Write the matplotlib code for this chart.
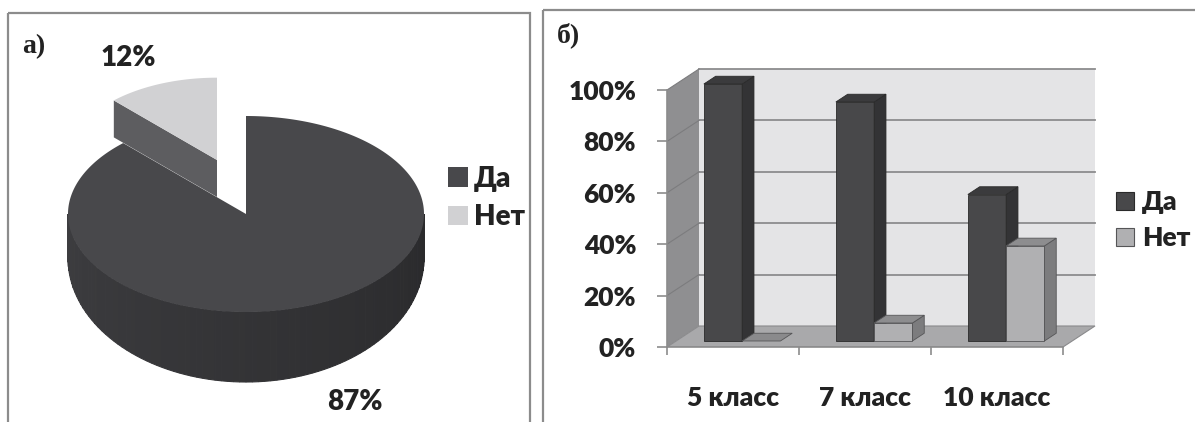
import numpy as np
import matplotlib
matplotlib.use("Agg")
import matplotlib.pyplot as plt
from matplotlib.patches import Polygon, Rectangle, Patch

# ---- data -------------------------------------------------------------
pie_labels = ["Да", "Нет"]
pie_values = [87, 12]

classes = ["5 класс", "7 класс", "10 класс"]
series_names = ["Да", "Нет"]
yes_share = [100, 93, 57]
no_share = [0, 7, 37]
y_ticks = [0, 20, 40, 60, 80, 100]

# ---- styling ----------------------------------------------------------
FONT = ["Lato", "DejaVu Sans"]
SERIF = ["Liberation Serif", "DejaVu Serif"]
WEIGHT = "heavy"
TXT = "#222222"
FRAME = "#8c8c8c"
FS = 19

W, H = 1195, 422
fig = plt.figure(figsize=(W / 100, H / 100), dpi=100)
fig.patch.set_facecolor("white")

# pixel-space canvas for the frames and the 3-D pie
canvas = fig.add_axes([0, 0, 1, 1])
canvas.set_xlim(0, W)
canvas.set_ylim(H, 0)
canvas.axis("off")

canvas.add_patch(Rectangle((8, 13), 522, 440, fill=False, ec=FRAME, lw=1.6))
canvas.add_patch(Rectangle((543, 10), 700, 440, fill=False, ec=FRAME, lw=1.6))
canvas.text(22, 47, "а)", family=SERIF, weight="bold", fontsize=20,
            color=TXT, ha="left", va="center")
canvas.text(557, 35, "б)", family=SERIF, weight="bold", fontsize=20,
            color=TXT, ha="left", va="center")

# ---- 3-D pie ----------------------------------------------------------
cx, cy, ra, rb = 246, 214, 178, 98        # top ellipse
cy_low, rb_low = 258, 124                 # bottom outline ellipse
explode_dx, explode_dy, far_scale = -29, -54, 0.84
pie_colors_top = ["#48484b", "#d1d1d3"]
pie_color_cut = "#5d5d60"

frac = np.array(pie_values, float) / sum(pie_values)
edges = 90 - 360 * np.concatenate([[0], np.cumsum(frac)])   # clockwise from 12 o'clock


def arc(t0, t1, ox, oy, s=1.0, n=120):
    t = np.radians(np.linspace(t0, t1, n))
    return np.column_stack([ox + s * ra * np.cos(t), oy - s * rb * np.sin(t)])


# exploded slice ("Нет") drawn first, it sits behind the main slice
t0, t1 = edges[1], edges[2]
ox, oy = cx + explode_dx, cy + explode_dy
depth = (cy_low - cy) * far_scale
corner = arc(t0, t0, ox, oy, far_scale, 1)[0]
cut = [(ox, oy), tuple(corner), (corner[0], corner[1] + depth), (ox, oy + depth)]
canvas.add_patch(Polygon(cut, closed=True, fc=pie_color_cut, ec="none"))
top = np.vstack([[ox, oy], arc(t0, t1, ox, oy, far_scale)])
canvas.add_patch(Polygon(top, closed=True, fc=pie_colors_top[1], ec="none"))

# main slice ("Да"): shaded outer wall along the front half, then the top
wall_angles = np.linspace(-180, 0, 91)
shade0 = np.array([0x3d, 0x3d, 0x40]) / 255
shade1 = np.array([0x2a, 0x2a, 0x2c]) / 255
for k in range(len(wall_angles) - 1):
    a0, a1 = wall_angles[k], wall_angles[k + 1]
    upper = arc(a0, a1, cx, cy, n=6)
    t = np.radians(np.linspace(a1, a0, 6))
    lower = np.column_stack([cx + ra * np.cos(t), cy_low - rb_low * np.sin(t)])
    w = k / (len(wall_angles) - 2)
    col = shade0 + (shade1 - shade0) * w
    canvas.add_patch(Polygon(np.vstack([upper, lower]), closed=True,
                             fc=col, ec=col, lw=0.8))
top = np.vstack([[cx, cy], arc(edges[0], edges[1], cx, cy, n=400)])
canvas.add_patch(Polygon(top, closed=True, fc=pie_colors_top[0], ec="none"))

canvas.text(128, 58, f"{pie_values[1]}%", family=FONT, weight=WEIGHT,
            fontsize=FS + 1, color=TXT, ha="center", va="center")
canvas.text(355, 402, f"{pie_values[0]}%", family=FONT, weight=WEIGHT,
            fontsize=FS + 1, color=TXT, ha="center", va="center")

pie_handles = [Patch(fc=c, ec="none") for c in pie_colors_top]
leg1 = canvas.legend(pie_handles, pie_labels, loc="center left",
                     bbox_to_anchor=(448 / W, 1 - 198 / H),
                     bbox_transform=fig.transFigure, frameon=False,
                     prop={"family": FONT, "weight": WEIGHT, "size": 20},
                     handlelength=0.72, handleheight=0.72, handletextpad=0.2,
                     labelspacing=0.45, borderpad=0, borderaxespad=0)
for t in leg1.get_texts():
    t.set_color(TXT)

# ---- 3-D column chart -------------------------------------------------
slot_px, unit_px = 132.0, 2.57            # pixels per category / per percent
x0_px, y0_px = 667, 347
dx, dy = 32 / slot_px, 21 / unit_px        # depth vector in data units
xmax, ymax = 3.25, 110
ax = fig.add_axes([x0_px / W, (H - y0_px) / H,
                   xmax * slot_px / W, ymax * unit_px / H])
ax.set_xlim(0, xmax)
ax.set_ylim(0, ymax)
ax.patch.set_alpha(0)
n = len(classes)

# walls and floor
ax.add_patch(Polygon([(dx, dy), (n + dx, dy), (n + dx, 100 + dy), (dx, 100 + dy)],
                     closed=True, fc="#e4e4e6", ec="none", zorder=1))
ax.add_patch(Polygon([(0, 0), (0, 100), (dx, 100 + dy), (dx, dy)],
                     closed=True, fc="#8f8f91", ec="none", zorder=1))
ax.add_patch(Polygon([(0, 0), (n, 0), (n + dx, dy), (dx, dy)],
                     closed=True, fc="#a9a9ab", ec="#8a8a8c", lw=0.8, zorder=1.5))
for v in y_ticks[1:]:
    ax.plot([dx, n + dx], [v + dy, v + dy], color="#8c8c8e", lw=1.3, zorder=1.2)
    ax.plot([0, dx], [v, v + dy], color="#7c7c7e", lw=0.8, zorder=1.2)

# columns
z_front, z_back = 0.286, 0.655
gap, bw = 0.21, 0.29
bar_faces = {
    "Да": ("#48484a", "#3b3b3d", "#333335", "#2a2a2a"),
    "Нет": ("#b0b0b2", "#8d8d8f", "#7c7c7e", "#555557"),
}
fx, fy = z_front * dx, z_front * dy
bdx, bdy = (z_back - z_front) * dx, (z_back - z_front) * dy
for j, (name, vals) in enumerate(zip(series_names, [yes_share, no_share])):
    front, topc, side, edge = bar_faces[name]
    for i, v in enumerate(vals):
        xl = i + gap + j * bw + fx
        xr = xl + bw
        y0, y1 = fy, fy + v
        if v > 0:
            ax.add_patch(Polygon([(xl, y0), (xr, y0), (xr, y1), (xl, y1)],
                                 closed=True, fc=front, ec=edge, lw=0.6, zorder=3))
            ax.add_patch(Polygon([(xr, y0), (xr + bdx, y0 + bdy),
                                  (xr + bdx, y1 + bdy), (xr, y1)],
                                 closed=True, fc=side, ec=edge, lw=0.6, zorder=3))
        ax.add_patch(Polygon([(xl, y1), (xr, y1), (xr + bdx, y1 + bdy),
                              (xl + bdx, y1 + bdy)],
                             closed=True, fc=topc if v > 0 else "#8a8a8c",
                             ec=edge, lw=0.6, zorder=3))

# axes
for s in ("top", "right"):
    ax.spines[s].set_visible(False)
for s in ("left", "bottom"):
    ax.spines[s].set_color(FRAME)
    ax.spines[s].set_linewidth(1.2)
ax.spines["left"].set_bounds(0, 100)
ax.spines["bottom"].set_bounds(0, n)
ax.set_yticks(y_ticks)
ax.set_yticklabels([f"{t}%" for t in y_ticks])
ax.tick_params(axis="y", length=7.2, width=1.2, color=FRAME, pad=15,
               labelsize=FS, labelcolor=TXT)
ax.set_xticks(range(n + 1))
ax.set_xticklabels([])
ax.tick_params(axis="x", which="major", length=5.8, width=1.2, color=FRAME)
ax.set_xticks(np.arange(n) + 0.5, minor=True)
ax.set_xticklabels(classes, minor=True)
ax.tick_params(axis="x", which="minor", length=0, pad=28,
               labelsize=FS, labelcolor=TXT)
for lab in ax.get_yticklabels() + ax.get_xticklabels(minor=True):
    lab.set_family(FONT)
    lab.set_weight(WEIGHT)

bar_handles = [Patch(fc=bar_faces[s][0], ec=bar_faces[s][3], lw=0.8)
               for s in series_names]
leg2 = ax.legend(bar_handles, series_names, loc="center left",
                 bbox_to_anchor=(1116 / W, 1 - 220 / H),
                 bbox_transform=fig.transFigure, frameon=False,
                 prop={"family": FONT, "weight": WEIGHT, "size": FS},
                 handlelength=0.68, handleheight=0.68, handletextpad=0.3,
                 labelspacing=0.45, borderpad=0, borderaxespad=0)
for t in leg2.get_texts():
    t.set_color(TXT)

fig.savefig("out.png", dpi=100, facecolor="white")
